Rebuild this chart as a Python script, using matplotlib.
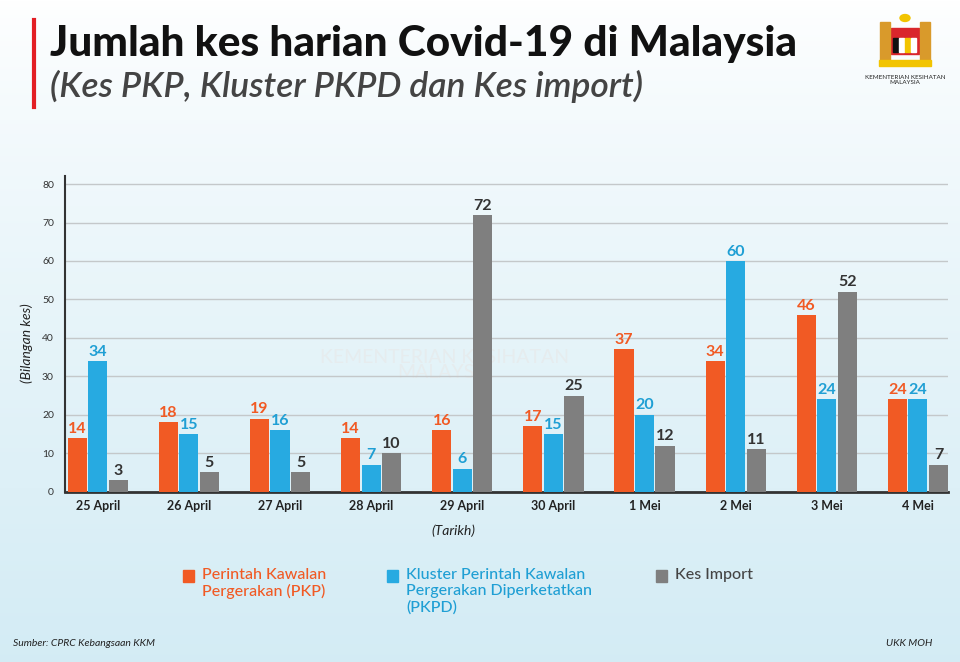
import numpy as np
import matplotlib
matplotlib.use('Agg')
from matplotlib import pyplot as plt

plt.rcParams['font.family'] = ['Lato', 'DejaVu Sans']

tarikh = ['25 April', '26 April', '27 April', '28 April', '29 April',
          '30 April', '1 Mei', '2 Mei', '3 Mei', '4 Mei']
pkp = [14, 18, 19, 14, 16, 17, 37, 34, 46, 24]
pkpd = [34, 15, 16, 7, 6, 15, 20, 60, 24, 24]
kes_import = [3, 5, 5, 10, 72, 25, 12, 11, 52, 7]

c_orange = '#f15a24'
c_blue = '#27aae1'
c_gray = '#7f7f7f'

fig = plt.figure(figsize=(9.6, 6.62), dpi=100)

# latar belakang (gradient putih -> biru muda)
bg = fig.add_axes([0, 0, 1, 1], zorder=-10)
grad = np.linspace(0, 1, 256).reshape(-1, 1)
top = np.array([1.0, 1.0, 1.0])
bot = np.array([0.83, 0.925, 0.96])
img = top + (bot - top) * (grad ** 0.8)[:, :, None]
bg.imshow(img, aspect='auto', extent=[0, 1, 0, 1])
bg.axis('off')

# garis merah + tajuk
fig.add_artist(plt.Line2D([34 / 960, 34 / 960], [1 - 20 / 662, 1 - 107 / 662],
                          color='#e31e24', lw=3))
fig.text(50 / 960, 1 - 44 / 662, 'Jumlah kes harian Covid-19 di Malaysia',
         fontsize=30.5, fontweight='black', color='#111111', va='center')
fig.text(50 / 960, 1 - 86 / 662, '(Kes PKP, Kluster PKPD dan Kes import)',
         fontsize=25.5, style='italic', fontweight='semibold', color='#444444',
         va='center')

# logo (ringkas)
lx, ly = 905 / 960, 1 - 40 / 662
fig.patches.append(plt.Rectangle((lx - 14 / 960, ly - 14 / 662), 28 / 960, 26 / 662,
                                 color='#d9262c', transform=fig.transFigure))
for i, cc in enumerate(['#111111', '#ffffff', '#f2c400', '#ffffff']):
    fig.patches.append(plt.Rectangle((lx - 12 / 960 + i * 6 / 960, ly - 12 / 662),
                                     5 / 960, 14 / 662, color=cc,
                                     transform=fig.transFigure))
fig.patches.append(plt.Circle((lx, ly + 22 / 662), 5 / 960, color='#f2c400',
                              transform=fig.transFigure))
for sx in (-1, 1):
    fig.patches.append(plt.Rectangle((lx + sx * 20 / 960 - 5 / 960, ly - 20 / 662),
                                     10 / 960, 38 / 662, color='#d99a2b',
                                     transform=fig.transFigure))
fig.patches.append(plt.Rectangle((lx - 26 / 960, ly - 26 / 662), 52 / 960, 6 / 662,
                                 color='#f2c400', transform=fig.transFigure))
fig.text(905 / 960, 1 - 80 / 662, 'KEMENTERIAN KESIHATAN\nMALAYSIA',
         fontsize=4.5, ha='center', va='center', color='#222222', linespacing=1.1)

# tera air
fig.text(445 / 960, 1 - 365 / 662, 'KEMENTERIAN KESIHATAN\nMALAYSIA',
         fontsize=14, ha='center', va='center', color='#e6ecee',
         linespacing=0.9, zorder=-5)

ax = fig.add_axes([65 / 960, 1 - 491.7 / 662, 883 / 960, 315.7 / 662])
ax.set_facecolor('none')

x = np.arange(len(tarikh))
w = 0.21
off = 0.225
b1 = ax.bar(x - off, pkp, w, color=c_orange, zorder=3)
b2 = ax.bar(x, pkpd, w, color=c_blue, zorder=3)
b3 = ax.bar(x + off, kes_import, w, color=c_gray, zorder=3)

for bars, vals, col in [(b1, pkp, c_orange), (b2, pkpd, '#1f9fd4'),
                        (b3, kes_import, '#333333')]:
    for r, v in zip(bars, vals):
        ax.text(r.get_x() + r.get_width() / 2, v + 0.6, str(v),
                ha='center', va='bottom', fontsize=11.5, fontweight='bold',
                color=col, zorder=4)

ax.set_xlim(-0.36, 9.33)
ax.set_ylim(0, 82.1)
ax.set_yticks(range(0, 81, 10))
ax.set_xticks(x)
ax.set_xticklabels(tarikh, fontsize=9, fontweight='bold', color='#222222')
ax.tick_params(axis='both', length=0)
ax.tick_params(axis='y', labelsize=7.5, labelcolor='#333333', pad=8)
ax.tick_params(axis='x', pad=6)
ax.grid(axis='y', color='#c4c8ca', lw=1, zorder=0)
for s in ['top', 'right']:
    ax.spines[s].set_visible(False)
ax.spines['left'].set_color('#333333')
ax.spines['bottom'].set_color('#333333')
ax.spines['left'].set_linewidth(1.5)
ax.spines['bottom'].set_linewidth(2)

fig.text(27 / 960, 1 - 343 / 662, '(Bilangan kes)', rotation=90, fontsize=10,
         style='italic', ha='center', va='center', color='#222222')
fig.text(453 / 960, 1 - 531 / 662, '(Tarikh)', fontsize=10, style='italic',
         ha='center', va='center', color='#222222')

# legend
leg = [(183, c_orange, 'Perintah Kawalan\nPergerakan (PKP)', c_orange),
       (387, c_blue, 'Kluster Perintah Kawalan\nPergerakan Diperketatkan\n(PKPD)', '#1f9fd4'),
       (656, c_gray, 'Kes Import', '#444444')]
for px, sc, txt, tc in leg:
    fig.patches.append(plt.Rectangle((px / 960, 1 - 582 / 662), 11 / 960, 12 / 662,
                                     color=sc, transform=fig.transFigure))
    fig.text((px + 19) / 960, 1 - 568 / 662, txt, fontsize=11.5, color=tc,
             va='top', ha='left', linespacing=1.2, fontweight='medium')

fig.text(13 / 960, 1 - 643 / 662, 'Sumber: CPRC Kebangsaan KKM', fontsize=7.5,
         style='italic', color='#222222', va='center')
fig.text(932 / 960, 1 - 643 / 662, 'UKK MOH', fontsize=7.5, style='italic',
         color='#222222', va='center', ha='right')

plt.savefig('out.png', dpi=100)
